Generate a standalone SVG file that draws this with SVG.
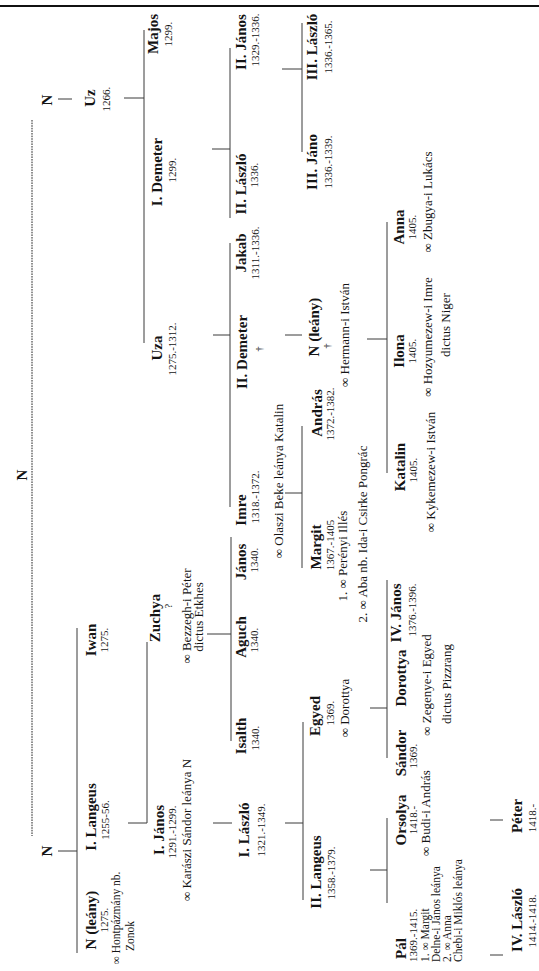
<svg xmlns="http://www.w3.org/2000/svg" width="539" height="971" viewBox="0 0 539 971">
<style>
text{font-family:"Liberation Serif","Times New Roman",serif;fill:#141414;text-anchor:middle}
.n{font-weight:bold;font-size:15px}
.d{font-size:11px}
.t{font-size:13px}
.p{font-size:11.5px}
.s{text-anchor:start}
.x{font-size:10px}
line{stroke:#3a3a3a;stroke-width:1}
.dot{stroke:#222;stroke-dasharray:1.6 1}
</style>
<rect width="539" height="971" fill="#fff"/>
<g id="connectors">
<line x1="0" y1="6" x2="539" y2="6" style="stroke:#111;stroke-width:2"/>
<line class="dot" x1="32" y1="120" x2="32" y2="836"/>
<line x1="58" y1="99" x2="72" y2="99"/>
<line x1="58" y1="851" x2="77" y2="851"/>
<line x1="77" y1="628" x2="77" y2="953"/>
<line x1="124" y1="98" x2="144" y2="98"/>
<line x1="144" y1="30" x2="144" y2="343"/>
<line x1="212" y1="149" x2="230" y2="149"/>
<line x1="230" y1="48" x2="230" y2="218"/>
<line x1="213" y1="335" x2="230" y2="335"/>
<line x1="230" y1="243" x2="230" y2="507"/>
<line x1="282" y1="69" x2="302" y2="69"/>
<line x1="302" y1="23" x2="302" y2="152"/>
<line x1="285" y1="335" x2="302" y2="335"/>
<line x1="285" y1="493" x2="302" y2="493"/>
<line x1="302" y1="426" x2="302" y2="568"/>
<line x1="367" y1="339" x2="387" y2="339"/>
<line x1="387" y1="222" x2="387" y2="473"/>
<line x1="128" y1="823" x2="147" y2="823"/>
<line x1="147" y1="642" x2="147" y2="823"/>
<line x1="213" y1="823" x2="232" y2="823"/>
<line x1="207" y1="634" x2="231" y2="634"/>
<line x1="231" y1="537" x2="231" y2="741"/>
<line x1="285" y1="823" x2="303" y2="823"/>
<line x1="303" y1="722" x2="303" y2="900"/>
<line x1="370" y1="708" x2="387" y2="708"/>
<line x1="387" y1="580" x2="387" y2="758"/>
<line x1="370" y1="870" x2="387" y2="870"/>
<line x1="387" y1="818" x2="387" y2="903"/>
<line x1="490" y1="820" x2="503" y2="820"/>
<line x1="490" y1="955" x2="503" y2="955"/>
</g>
<g id="root"><text class="n" transform="translate(27,475) rotate(-90)">N</text></g>
<g id="n-top"><text class="n" transform="translate(52,100) rotate(-90)">N</text></g>
<g id="uz"><text class="n" transform="translate(95,98) rotate(-90)">Uz</text><text class="d" transform="translate(110,99) rotate(-90)">1266.</text></g>
<g id="majos"><text class="n" transform="translate(158,34) rotate(-90)">Majos</text><text class="d" transform="translate(172,34) rotate(-90)">1299.</text></g>
<g id="demeter1"><text class="n" transform="translate(162,172) rotate(-90)">I. Demeter</text><text class="d" transform="translate(176,170) rotate(-90)">1299.</text></g>
<g id="uza"><text class="n" transform="translate(162,348) rotate(-90)">Uza</text><text class="d" transform="translate(176,349) rotate(-90)">1275.-1312.</text></g>
<g id="janos2"><text class="n" transform="translate(246,42) rotate(-90)">II. János</text><text class="d" transform="translate(259,40) rotate(-90)">1329.-1336.</text></g>
<g id="laszlo2"><text class="n" transform="translate(246,184) rotate(-90)">II. László</text><text class="d" transform="translate(258,175) rotate(-90)">1336.</text></g>
<g id="jakab"><text class="n" transform="translate(246,253) rotate(-90)">Jakab</text><text class="d" transform="translate(259,253) rotate(-90)">1311.-1336.</text></g>
<g id="demeter2"><text class="n" transform="translate(247,352) rotate(-90)">II. Demeter</text><text class="x" transform="translate(263,349) rotate(-90)">†</text></g>
<g id="imre"><text class="n" transform="translate(246,510) rotate(-90)">Imre</text><text class="d" transform="translate(259,497) rotate(-90)">1318.-1372.</text><text class="t" transform="translate(283,481) rotate(-90)">∞ Olaszi Beke leánya Katalin</text></g>
<g id="laszlo3"><text class="n" transform="translate(317,47) rotate(-90)">III. László</text><text class="d" transform="translate(332,47) rotate(-90)">1336.-1365.</text></g>
<g id="jano3"><text class="n" transform="translate(317,162) rotate(-90)">III. Jáno</text><text class="d" transform="translate(332,162) rotate(-90)">1336.-1339.</text></g>
<g id="leany-top"><text class="n" transform="translate(319,327) rotate(-90)">N (leány)</text><text class="x" transform="translate(331,346) rotate(-90)">†</text><text class="t" transform="translate(349,335) rotate(-90)">∞ Hermann-i István</text></g>
<g id="andras"><text class="n" transform="translate(322,413) rotate(-90)">András</text><text class="d" transform="translate(334,414) rotate(-90)">1372.-1382.</text></g>
<g id="margit"><text class="n" transform="translate(321,547) rotate(-90)">Margit</text><text class="d" transform="translate(334,545) rotate(-90)">1367.-1405</text><text class="t" transform="translate(347,556) rotate(-90)">1. ∞ Perényi Illés</text><text class="t" transform="translate(367,534) rotate(-90)">2. ∞ Aba nb. Ida-i Csirke Pongrác</text></g>
<g id="anna"><text class="n" transform="translate(404,227) rotate(-90)">Anna</text><text class="d" transform="translate(416,227) rotate(-90)">1405.</text><text class="t" transform="translate(432,202) rotate(-90)">∞ Zbugya-i Lukács</text></g>
<g id="ilona"><text class="n" transform="translate(404,351) rotate(-90)">Ilona</text><text class="d" transform="translate(416,351) rotate(-90)">1405.</text><text class="t" transform="translate(432,337) rotate(-90)">∞ Hozyumezew-i Imre</text><text class="t" transform="translate(450,325) rotate(-90)">dictus Niger</text></g>
<g id="katalin"><text class="n" transform="translate(405,467) rotate(-90)">Katalin</text><text class="d" transform="translate(417,470) rotate(-90)">1405.</text><text class="t" transform="translate(435,472) rotate(-90)">∞ Kykemezew-i István</text></g>
<g id="n-bottom"><text class="n" transform="translate(52,851) rotate(-90)">N</text></g>
<g id="langeus1"><text class="n" transform="translate(96,817) rotate(-90)">I. Langeus</text><text class="d" transform="translate(109,820) rotate(-90)">1255-56.</text></g>
<g id="iwan"><text class="n" transform="translate(96,640) rotate(-90)">Iwan</text><text class="d" transform="translate(108,640) rotate(-90)">1275.</text></g>
<g id="leany-bottom"><text class="n" transform="translate(96,920) rotate(-90)">N (leány)</text><text class="d" transform="translate(108,920) rotate(-90)">1275.</text><text class="p" transform="translate(120,918) rotate(-90)">∞ Hontpázmány nb.</text><text class="p" transform="translate(134,936) rotate(-90)">Zonok</text></g>
<g id="janos1"><text class="n" transform="translate(164,830) rotate(-90)">I. János</text><text class="d" transform="translate(176,832) rotate(-90)">1291.-1299.</text><text class="t" transform="translate(191,830) rotate(-90)">∞ Karászi Sándor leánya N</text></g>
<g id="zuchya"><text class="n" transform="translate(160,618) rotate(-90)">Zuchya</text><text class="x" transform="translate(172,606) rotate(-90)">?</text><text class="t" transform="translate(191,616) rotate(-90)">∞ Bezzegh-i Péter</text><text class="t" transform="translate(203,617) rotate(-90)">dictus Etkhes</text></g>
<g id="janos"><text class="n" transform="translate(246,562) rotate(-90)">János</text><text class="d" transform="translate(258,560) rotate(-90)">1340.</text></g>
<g id="aguch"><text class="n" transform="translate(246,637) rotate(-90)">Aguch</text><text class="d" transform="translate(258,640) rotate(-90)">1340.</text></g>
<g id="isalth"><text class="n" transform="translate(246,736) rotate(-90)">Isalth</text><text class="d" transform="translate(259,738) rotate(-90)">1340.</text></g>
<g id="laszlo1"><text class="n" transform="translate(249,830) rotate(-90)">I. László</text><text class="d" transform="translate(265,830) rotate(-90)">1321.-1349.</text></g>
<g id="egyed"><text class="n" transform="translate(320,716) rotate(-90)">Egyed</text><text class="d" transform="translate(334,713) rotate(-90)">1369.</text><text class="t" transform="translate(349,708) rotate(-90)">∞ Dorottya</text></g>
<g id="langeus2"><text class="n" transform="translate(321,872) rotate(-90)">II. Langeus</text><text class="d" transform="translate(335,873) rotate(-90)">1358.-1379.</text></g>
<g id="janos4"><text class="n" transform="translate(401,613) rotate(-90)">IV. János</text><text class="d" transform="translate(416,610) rotate(-90)">1376.-1396.</text></g>
<g id="dorottya"><text class="n" transform="translate(406,678) rotate(-90)">Dorottya</text><text class="t" transform="translate(431,685) rotate(-90)">∞ Zegenye-i Egyed</text><text class="t" transform="translate(451,684) rotate(-90)">dictus Pizzrang</text></g>
<g id="sandor"><text class="n" transform="translate(406,753) rotate(-90)">Sándor</text><text class="d" transform="translate(417,756) rotate(-90)">1369.</text></g>
<g id="orsolya"><text class="n" transform="translate(406,820) rotate(-90)">Orsolya</text><text class="d" transform="translate(417,820) rotate(-90)">1418.-</text><text class="t" transform="translate(430,813) rotate(-90)">∞ Budi-i András</text></g>
<g id="pal"><text class="n s" transform="translate(406,959) rotate(-90)">Pál</text><text class="d s" transform="translate(417,962) rotate(-90)">1369.-1415.</text><text class="p s" transform="translate(429,962) rotate(-90)">1. ∞ Margit</text><text class="p s" transform="translate(440,962) rotate(-90)">Delne-i János leánya</text><text class="p s" transform="translate(451,962) rotate(-90)">2. ∞ Anna</text><text class="p s" transform="translate(462,962) rotate(-90)">Chebi-i Miklós leánya</text></g>
<g id="peter"><text class="n" transform="translate(522,816) rotate(-90)">Péter</text><text class="d" transform="translate(536,818) rotate(-90)">1418.-</text></g>
<g id="laszlo4"><text class="n" transform="translate(522,920) rotate(-90)">IV. László</text><text class="d" transform="translate(536,921) rotate(-90)">1414.-1418.</text></g>
</svg>
